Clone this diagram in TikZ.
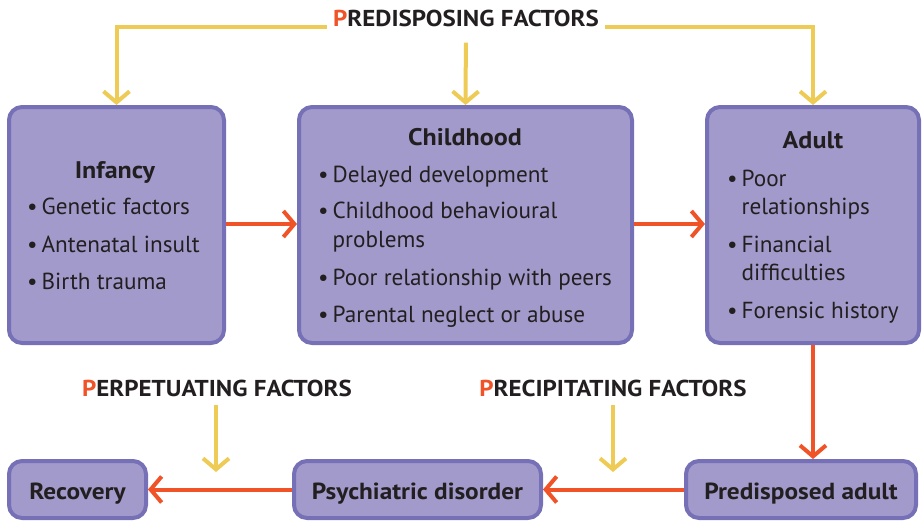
\documentclass[tikz,border=0pt]{standalone}
\usepackage{fontspec}
\setmainfont{PT Sans}[BoldFeatures={FakeStretch=1.085}]
\usetikzlibrary{arrows.meta}
\definecolor{boxfill}{HTML}{A29ACB}
\definecolor{boxline}{HTML}{7670B6}
\definecolor{ylw}{HTML}{EDCB55}
\definecolor{org}{HTML}{F05327}
\definecolor{txt}{HTML}{231F20}
\tikzset{
  box/.style={draw=boxline, fill=boxfill, line width=4pt, rounded corners=13pt, inner sep=0pt},
  tip/.style={-{Straight Barb[length=11pt,width=26pt,line width=4pt]}},
  yarrow/.style={draw=ylw, line width=4pt, tip},
  rarrow/.style={draw=org, line width=4pt, tip},
  body/.style={inner sep=0pt, text=txt, font=\fontsize{23.2}{27}\selectfont, anchor=base west},
  ttl/.style={inner sep=0pt, text=txt, font=\bfseries\fontsize{24}{28}\selectfont, anchor=base},
  btm/.style={inner sep=0pt, text=txt, font=\bfseries\fontsize{23.3}{27}\selectfont, anchor=base},
  hdr/.style={inner sep=0pt, text=txt, font=\bfseries\fontsize{23}{27}\selectfont, anchor=base},
}
\newcommand{\bl}{\textbullet\kern4pt}
\newcommand{\nb}{\phantom{\textbullet}\kern4pt}
\begin{document}
\begin{tikzpicture}[x=1pt,y=-1pt]
\useasboundingbox (0,0) rectangle (923,522);
% boxes
\node[box, minimum width=215pt, minimum height=236pt] (inf) at (116.5,225) {};
\node[box, minimum width=333pt, minimum height=236pt] (child) at (465.5,225) {};
\node[box, minimum width=212pt, minimum height=236pt] (adult) at (813,225) {};
\node[box, minimum width=137pt, minimum height=57pt] (rec) at (77.5,489.5) {};
\node[box, minimum width=247pt, minimum height=57pt] (psy) at (417.5,489.5) {};
\node[box, minimum width=230pt, minimum height=57pt] (pred) at (801,489.5) {};
% infancy
\node[ttl] (infT) at (115,178) {Infancy};
\node[body] (inf1) at (27,214) {\bl Genetic factors};
\node[body] (inf2) at (27,252) {\bl Antenatal insult};
\node[body] (inf3) at (27,289) {\bl Birth trauma};
% childhood
\node[ttl] (chT) at (465,145) {Childhood};
\node[body] (ch1) at (318,182) {\bl Delayed development};
\node[body] (ch2) at (318,218) {\bl Childhood behavioural};
\node[body] (ch2b) at (318,247) {\nb problems};
\node[body] (ch3) at (318,285) {\bl Poor relationship with peers};
\node[body] (ch4) at (318,322) {\bl Parental neglect or abuse};
% adult
\node[ttl] (adT) at (813,148) {Adult};
\node[body] (ad1) at (727,186) {\bl Poor};
\node[body] (ad1b) at (727,214) {\nb relationships};
\node[body] (ad2) at (727,252) {\bl Financial};
\node[body] (ad2b) at (727,280) {\nb difficulties};
\node[body] (ad3) at (727,318) {\bl Forensic history};
% bottom labels
\node[btm] (recT) at (77.5,499) {Recovery};
\node[btm] (psyT) at (417.5,499) {Psychiatric disorder};
\node[btm] (predT) at (801,499) {Predisposed adult};
% headers
\node[hdr] (predis) at (466,27) {\textcolor{org}{P}REDISPOSING FACTORS};
\node[hdr] (perp) at (217,396) {\textcolor{org}{P}ERPETUATING FACTORS};
\node[hdr] (prec) at (613,396) {\textcolor{org}{P}RECIPITATING FACTORS};
% yellow connectors
\draw[yarrow, shorten <=6pt] ([yshift=-8pt]predis.west) -| (inf.north);
\draw[yarrow, shorten <=6pt] ([yshift=-8pt]predis.east) -| (adult.north);
\draw[yarrow, shorten <=15pt] (predis.south) -- (child.north);
\coordinate (perpEnd) at (216,472);
\coordinate (precEnd) at (613,472);
\draw[yarrow, shorten <=8pt] (perp.south -| perpEnd) -- (perpEnd);
\draw[yarrow, shorten <=8pt] (prec.south) -- (precEnd);
% orange connectors
\draw[rarrow] (inf.east |- 0,224) -- (child.west |- 0,224);
\draw[rarrow] (child.east |- 0,224) -- (adult.west |- 0,224);
\draw[rarrow] (adult.south) -- (adult.south |- pred.north);
\draw[rarrow] (pred.west) -- (psy.east);
\draw[rarrow] (psy.west) -- (rec.east);
\end{tikzpicture}
\end{document}
